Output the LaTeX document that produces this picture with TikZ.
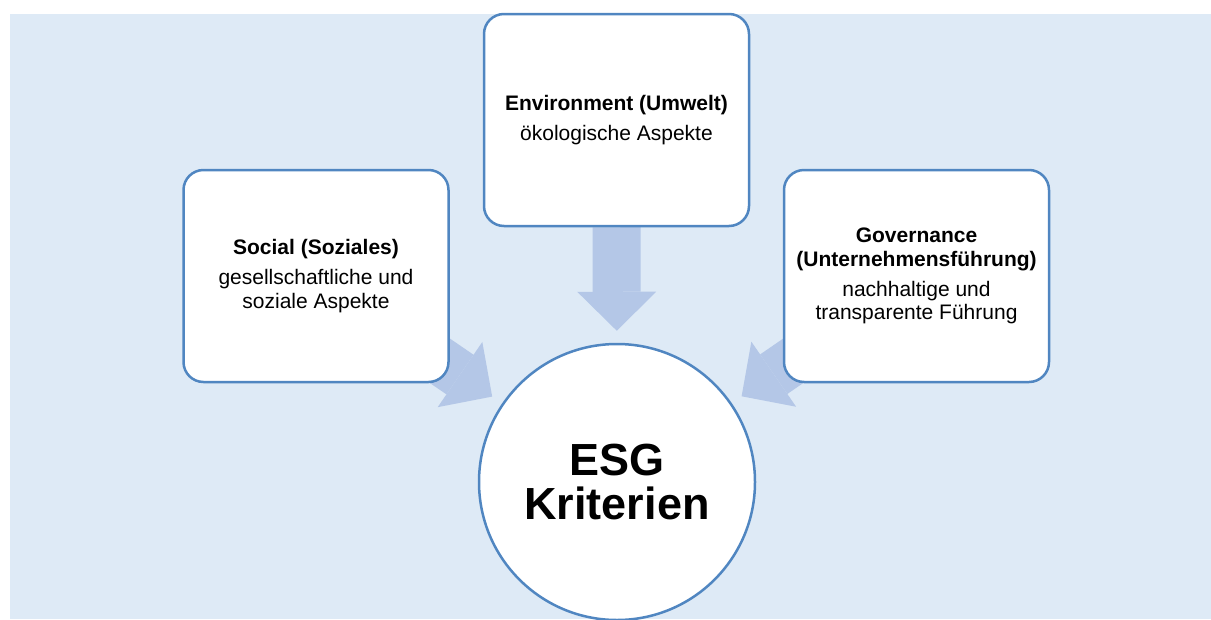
\documentclass[tikz,border=0pt]{standalone}
\usepackage{fontspec}
\setmainfont{Liberation Sans}
\usetikzlibrary{arrows.meta}
\definecolor{esgback}{RGB}{222,234,246}
\definecolor{esgline}{RGB}{80,134,193}
\definecolor{esgarrow}{RGB}{180,199,231}
\pgfdeclarelayer{back}
\pgfdeclarelayer{flows}
\pgfsetlayers{back,flows,main}

\begin{document}
\begin{tikzpicture}
[x=1pt,y=-1pt,%
  box/.style={draw=esgline,line width=2.5pt,fill=white,rounded corners=20pt,
    minimum width=265pt,minimum height=212pt,inner sep=0pt,align=center,
    font=\fontsize{21}{23.5}\selectfont},
  hub/.style={draw=esgline,line width=2.5pt,fill=white,circle,minimum size=276pt,
    inner sep=0pt,align=center,font=\fontsize{45}{44}\selectfont\bfseries},
  flow/.style={draw=esgarrow,line width=48pt,shorten >=12pt,
    -{Triangle[length=39pt,width=79pt,line width=0pt]}}]
\useasboundingbox (0,0) rectangle (1211,619);
\begin{pgfonlayer}{back}
  \fill[esgback] (10,14) rectangle (1211,619);
\end{pgfonlayer}
\node[hub] (esg) at (617,482) {ESG\\Kriterien};
\node[box] (env) at (616.5,120)
  {\textbf{Environment (Umwelt)}\\[6.5pt]ökologische Aspekte};
\node[box] (soc) at (316,276)
  {\textbf{Social (Soziales)}\\[6.5pt]gesellschaftliche und\\soziale Aspekte};
\node[box] (gov) at (916.5,276)
  {\textbf{Governance}\\\textbf{(Unternehmensführung)}\\[6.5pt]nachhaltige und\\transparente Führung};
% arrows into the hub
\begin{pgfonlayer}{flows}
  \draw[flow] (env) -- (esg);
  \draw[flow] (soc.center) -- (esg);
  \draw[flow] (gov.center) -- (esg);
\end{pgfonlayer}
\end{tikzpicture}
\end{document}
